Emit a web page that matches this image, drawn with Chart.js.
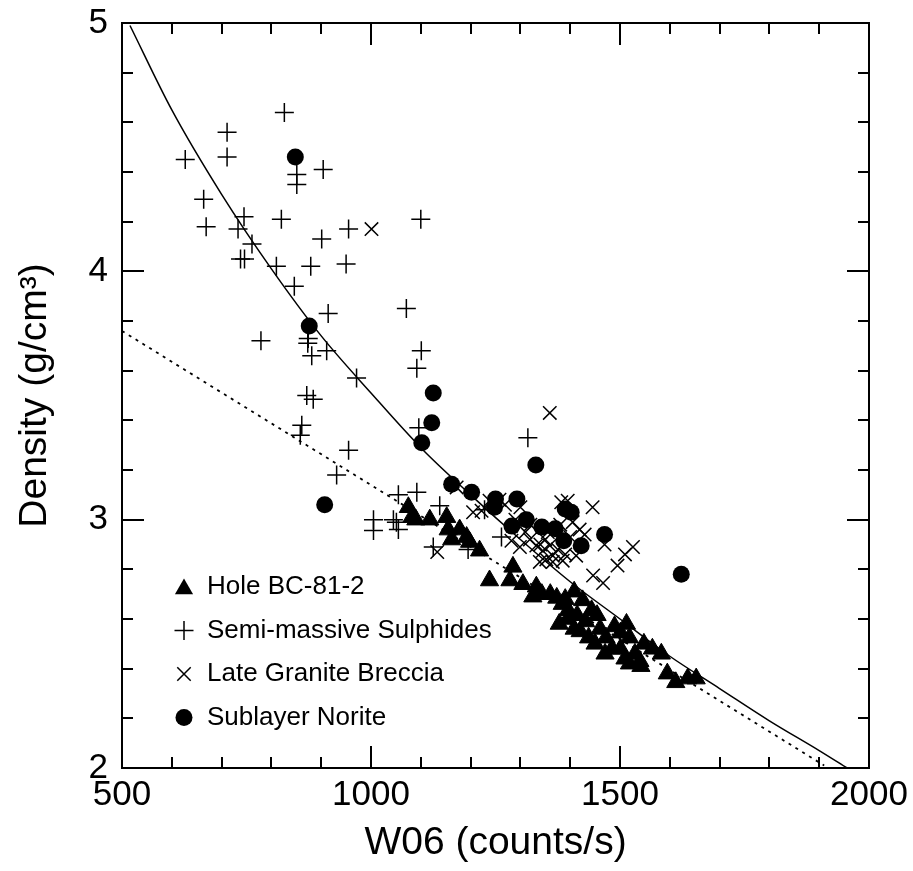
<!DOCTYPE html>
<html>
<head>
<meta charset="utf-8">
<script src="https://cdn.jsdelivr.net/npm/chart.js@4/dist/chart.umd.min.js"></script>
<style>
  html, body { margin: 0; padding: 0; background: #fff; }
  canvas { display: block; }
</style>
</head>
<body>
<canvas id="densityChart" width="913" height="871"></canvas>
<script>
// values: [W06 counts/s, density g/cm3]
const holeBC81 = [
    [1075, 3.05], [1082, 3.01], [1090, 3.00], [1118, 3.00], [1152, 3.01], [1155, 2.96],
    [1162, 2.92], [1178, 2.96], [1192, 2.93], [1198, 2.91], [1218, 2.875], [1238, 2.755],
    [1285, 2.81], [1279, 2.755], [1305, 2.74], [1332, 2.73], [1325, 2.69], [1343, 2.70],
    [1360, 2.70], [1373, 2.685], [1384, 2.66], [1390, 2.68], [1408, 2.71], [1425, 2.675],
    [1396, 2.635], [1414, 2.615], [1408, 2.56], [1431, 2.59], [1443, 2.635], [1454, 2.615],
    [1460, 2.56], [1437, 2.525], [1472, 2.525], [1489, 2.57], [1501, 2.545], [1513, 2.58],
    [1519, 2.525], [1501, 2.48], [1530, 2.46], [1542, 2.41], [1548, 2.50], [1565, 2.48],
    [1583, 2.46], [1595, 2.38], [1612, 2.345], [1636, 2.36], [1653, 2.36], [1519, 2.42],
    [1484, 2.48], [1378, 2.58], [1395, 2.60], [1420, 2.55], [1450, 2.50], [1470, 2.46],
    [1510, 2.44], [1540, 2.43]
];
const semiMassive = [
    [826, 4.64], [711, 4.56], [711, 4.46], [627, 4.45], [851, 4.39], [851, 4.35], [904, 4.41],
    [664, 4.29], [669, 4.18], [745, 4.22], [733, 4.17], [820, 4.21], [1100, 4.21], [955, 4.17],
    [761, 4.11], [901, 4.13], [738, 4.05], [746, 4.05], [810, 4.02], [879, 4.02], [950, 4.03],
    [846, 3.94], [1071, 3.85], [914, 3.83], [779, 3.72], [874, 3.73], [873, 3.71], [881, 3.66],
    [911, 3.68], [1101, 3.68], [1092, 3.61], [971, 3.57], [871, 3.50], [884, 3.485], [861, 3.38],
    [858, 3.34], [1096, 3.37], [955, 3.28], [1315, 3.33], [931, 3.18], [1055, 3.10], [1092, 3.11],
    [1138, 3.056], [1005, 3.00], [1005, 2.956], [1045, 3.00], [1055, 2.96], [1262, 2.93],
    [1195, 2.88], [1228, 3.04], [1125, 2.89], [1051, 2.99]
];
const graniteBreccia = [
    [1001, 4.17], [1359, 3.43], [1133, 2.87], [1172, 3.13], [1205, 3.03], [1222, 3.036],
    [1238, 3.076], [1258, 3.08], [1269, 3.06], [1282, 2.915], [1299, 2.89], [1319, 2.92],
    [1332, 2.896], [1345, 2.875], [1359, 2.896], [1365, 2.855], [1339, 2.83], [1352, 2.84],
    [1365, 2.83], [1382, 3.07], [1395, 3.076], [1445, 3.05], [1419, 2.96], [1429, 2.94],
    [1385, 2.835], [1412, 2.855], [1469, 2.90], [1495, 2.815], [1510, 2.86], [1526, 2.89],
    [1446, 2.775], [1466, 2.745], [1290, 3.00], [1310, 2.95], [1350, 2.92], [1375, 2.88],
    [1400, 2.93], [1380, 2.98], [1320, 2.98], [1300, 3.05], [1405, 2.99], [1355, 2.95],
    [1340, 2.90], [1390, 2.86]
];
const sublayerNorite = [
    [848, 4.46], [876, 3.78], [1125, 3.51], [1122, 3.39], [1102, 3.31], [1331, 3.22], [907, 3.06],
    [1162, 3.143], [1202, 3.11], [1250, 3.083], [1248, 3.05], [1293, 3.083], [1312, 3.00],
    [1283, 2.974], [1343, 2.97], [1370, 2.963], [1390, 3.043], [1402, 3.03], [1387, 2.915],
    [1422, 2.895], [1469, 2.94], [1623, 2.78]
];
// fitted curves as traced on the figure
const fitSolidX = [516, 600, 700, 800, 900, 1000, 1100, 1200, 1300, 1400, 1500, 1600, 1700, 1800, 1900, 1956];
const fitSolidY = [4.99, 4.65, 4.31, 4.01, 3.74, 3.51, 3.29, 3.10, 2.92, 2.75, 2.60, 2.45, 2.32, 2.19, 2.07, 2.00];
const fitDashX = [500, 1910];
const fitDashY = [3.76, 2.01];

const xMajor = [500, 1000, 1500, 2000];
const yMajor = [2, 3, 4, 5];

const toPts = arr => arr.map(p => ({ x: p[0], y: p[1] }));
const zipPts = (xs, ys) => xs.map((x, i) => ({ x: x, y: ys[i] }));

Chart.defaults.font.family = '"Liberation Sans", Arial, Helvetica, sans-serif';
Chart.defaults.color = '#000';

const legendItems = [
    { label: 'Hole BC-81-2', style: 'triangle', r: 10.5 },
    { label: 'Semi-massive Sulphides', style: 'cross', r: 9.5 },
    { label: 'Late Granite Breccia', style: 'crossRot', r: 9.5 },
    { label: 'Sublayer Norite', style: 'circle', r: 8.5 }
];

function drawMarker(ctx, style, x, y, r) {
    ctx.beginPath();
    if (style === 'triangle') {
        for (let i = 0; i < 3; i++) {
            const a = i * 2 * Math.PI / 3;
            const px = x + Math.sin(a) * r, py = y - Math.cos(a) * r;
            i === 0 ? ctx.moveTo(px, py) : ctx.lineTo(px, py);
        }
        ctx.closePath();
        ctx.fill();
    } else if (style === 'circle') {
        ctx.arc(x, y, r, 0, Math.PI * 2);
        ctx.fill();
    } else if (style === 'cross') {
        ctx.moveTo(x - r, y); ctx.lineTo(x + r, y);
        ctx.moveTo(x, y - r); ctx.lineTo(x, y + r);
        ctx.stroke();
    } else {
        const d = r * Math.SQRT1_2;
        ctx.moveTo(x - d, y - d); ctx.lineTo(x + d, y + d);
        ctx.moveTo(x - d, y + d); ctx.lineTo(x + d, y - d);
        ctx.stroke();
    }
}

// frame, inward tick marks on all four sides, and the inset legend
const framePlugin = {
    id: 'frame',
    afterDraw(chart) {
        const ctx = chart.ctx;
        const a = chart.chartArea;
        const xs = chart.scales.x, ys = chart.scales.y;
        ctx.save();
        ctx.strokeStyle = '#000';
        ctx.fillStyle = '#000';
        ctx.lineWidth = 2;
        ctx.strokeRect(a.left, a.top, a.right - a.left, a.bottom - a.top);

        ctx.beginPath();
        xs.ticks.forEach(t => {
            const px = Math.round(xs.getPixelForValue(t.value));
            const len = xMajor.includes(Math.round(t.value)) ? 22 : 11;
            ctx.moveTo(px, a.bottom); ctx.lineTo(px, a.bottom - len);
            ctx.moveTo(px, a.top); ctx.lineTo(px, a.top + len);
        });
        ys.ticks.forEach(t => {
            const py = Math.round(ys.getPixelForValue(t.value));
            const len = yMajor.some(v => Math.abs(v - t.value) < 1e-6) ? 22 : 11;
            ctx.moveTo(a.left, py); ctx.lineTo(a.left + len, py);
            ctx.moveTo(a.right, py); ctx.lineTo(a.right - len, py);
        });
        ctx.stroke();

        ctx.lineWidth = 1.5;
        ctx.font = '26px "Liberation Sans", Arial, sans-serif';
        ctx.textBaseline = 'middle';
        ctx.textAlign = 'left';
        legendItems.forEach((item, i) => {
            const y = 587 + i * 43.5;
            drawMarker(ctx, item.style, 184, item.style === 'triangle' ? y + 2 : y, item.r);
            ctx.fillText(item.label, 207, y);
        });
        ctx.restore();
    }
};

const ctx = document.getElementById('densityChart').getContext('2d');
new Chart(ctx, {
    type: 'scatter',
    data: {
        datasets: [
            {
                label: 'Sublayer Norite',
                data: toPts(sublayerNorite),
                pointStyle: 'circle', pointRadius: 8.5,
                backgroundColor: '#000', borderColor: '#000', borderWidth: 0,
                order: 1
            },
            {
                label: 'Late Granite Breccia',
                data: toPts(graniteBreccia),
                pointStyle: 'crossRot', pointRadius: 9.5,
                backgroundColor: '#000', borderColor: '#000', borderWidth: 1.5,
                order: 2
            },
            {
                label: 'Semi-massive Sulphides',
                data: toPts(semiMassive),
                pointStyle: 'cross', pointRadius: 9.5,
                backgroundColor: '#000', borderColor: '#000', borderWidth: 1.5,
                order: 3
            },
            {
                label: 'Hole BC-81-2',
                data: toPts(holeBC81),
                pointStyle: 'triangle', pointRadius: 10.5,
                backgroundColor: '#000', borderColor: '#000', borderWidth: 1,
                order: 4
            },
            {
                label: 'fit',
                type: 'line',
                data: zipPts(fitSolidX, fitSolidY),
                borderColor: '#000', borderWidth: 1.5,
                pointRadius: 0, fill: false,
                cubicInterpolationMode: 'monotone',
                order: 5
            },
            {
                label: 'fit dashed',
                type: 'line',
                data: zipPts(fitDashX, fitDashY),
                borderColor: '#000', borderWidth: 1.8,
                borderDash: [3, 5],
                pointRadius: 0, fill: false,
                order: 6
            }
        ]
    },
    options: {
        responsive: false,
        animation: false,
        events: [],
        layout: { padding: { left: 0, right: 44, top: 23, bottom: 0 } },
        plugins: {
            legend: { display: false },
            tooltip: { enabled: false }
        },
        scales: {
            x: {
                type: 'linear',
                min: 500, max: 2000,
                grid: { display: false, drawTicks: false },
                border: { display: false },
                ticks: {
                    stepSize: 100,
                    autoSkip: false,
                    maxRotation: 0,
                    padding: 6,
                    font: { size: 35 },
                    callback: v => xMajor.includes(Math.round(v)) ? String(Math.round(v)) : ''
                },
                title: {
                    display: true,
                    text: 'W06 (counts/s)',
                    font: { size: 39 },
                    padding: { top: 0, bottom: 4 }
                },
                afterFit: s => { s.height = 103; s.paddingLeft = 0; s.paddingRight = 0; }
            },
            y: {
                type: 'linear',
                min: 2, max: 5,
                grid: { display: false, drawTicks: false },
                border: { display: false },
                ticks: {
                    stepSize: 0.2,
                    autoSkip: false,
                    padding: 14,
                    font: { size: 35 },
                    callback: v => yMajor.some(m => Math.abs(m - v) < 1e-6) ? String(Math.round(v)) : ''
                },
                title: {
                    display: true,
                    text: 'Density (g/cm³)',
                    font: { size: 39 },
                    padding: { top: 12, bottom: 0 }
                },
                afterFit: s => { s.width = 122; s.paddingTop = 0; s.paddingBottom = 0; }
            }
        }
    },
    plugins: [framePlugin]
});
</script>
</body>
</html>
